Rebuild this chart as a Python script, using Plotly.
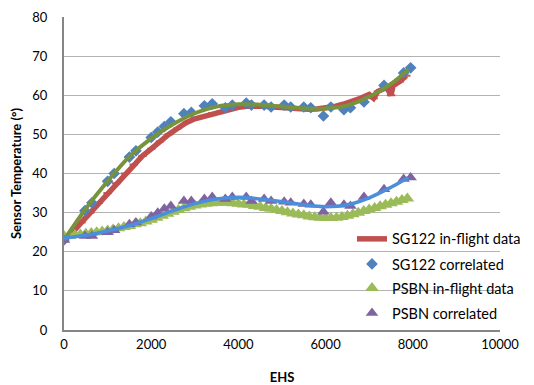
import plotly.graph_objects as go

# ---------------- data ----------------
sg_flight_x = [0, 200, 400, 600, 800, 1000, 1200, 1400, 1600, 1800, 2000, 2200, 2400, 2600,
               2800, 3000, 3200, 3400, 3600, 3800, 4000, 4200, 4400, 4600, 4800, 5000, 5200,
               5400, 5600, 5800, 6000, 6200, 6400, 6600, 6800, 7000, 7100, 7200, 7400, 7500,
               7550, 7700, 7850]
sg_flight_y = [23.5, 25.0, 27.5, 30.0, 32.5, 35.0, 37.5, 40.0, 42.3, 44.5, 46.3, 48.2, 50.0, 51.5,
               53.0, 54.0, 54.6, 55.4, 56.0, 56.5, 56.9, 57.2, 57.3, 57.2, 57.0, 56.8, 56.6,
               56.5, 56.4, 56.5, 56.7, 57.1, 57.7, 58.4, 59.2, 60.2, 59.2, 61.0, 62.0, 60.0,
               62.5, 63.5, 65.0]

corr_x = [0, 480, 640, 1000, 1150, 1500, 1650, 2000, 2150, 2300, 2450, 2750, 2920, 3220, 3400,
          3700, 3860, 4180, 4300, 4590, 4750, 5050, 5200, 5500, 5660, 5950, 6120, 6420, 6570,
          6880, 7340, 7790, 7950]
sg_corr_y = [23.0, 30.5, 32.5, 38.0, 40.0, 44.2, 45.8, 49.2, 50.6, 52.0, 53.2, 55.3, 55.6, 57.3, 57.8,
             56.8, 57.5, 58.0, 57.5, 57.5, 57.0, 57.5, 57.0, 57.0, 56.8, 54.7, 57.0, 56.3, 56.8,
             58.3, 62.5, 65.7, 67.0]
psbn_corr_y = [23.0, 24.0, 24.0, 25.0, 25.5, 27.0, 27.5, 29.0, 30.0, 31.0, 31.7, 33.0, 33.0, 33.5, 34.0,
               33.5, 34.0, 34.0, 33.0, 33.5, 33.0, 32.8, 32.5, 32.2, 32.0, 30.2, 32.5, 32.0, 31.7,
               34.0, 36.0, 38.6, 39.0]

psbn_flight_x = [0, 125, 250, 375, 500, 625, 750, 875, 1000, 1125, 1250, 1375, 1500, 1625, 1750, 1875,
                 2000, 2125, 2250, 2375, 2500, 2625, 2750, 2875, 3000, 3125, 3250, 3375, 3500, 3625,
                 3750, 3875, 4000, 4125, 4250, 4375, 4500, 4625, 4750, 4875, 5000, 5125, 5250, 5375,
                 5500, 5625, 5750, 5875, 6000, 6125, 6250, 6375, 6500, 6625, 6750, 6875, 7000, 7125,
                 7250, 7375, 7500, 7625, 7750, 7875]
psbn_flight_y = [24.0, 24.1, 24.3, 24.4, 24.6, 24.8, 25.0, 25.2, 25.4, 25.7, 26.0, 26.3, 26.6, 27.0, 27.3, 27.7,
                 28.2, 28.7, 29.2, 29.7, 30.2, 30.7, 31.1, 31.5, 31.8, 32.1, 32.3, 32.4, 32.5, 32.5,
                 32.5, 32.4, 32.3, 32.1, 32.0, 31.7, 31.5, 31.2, 31.0, 30.7, 30.4, 30.1, 29.8, 29.5,
                 29.3, 29.0, 28.8, 28.7, 28.6, 28.6, 28.7, 28.9, 29.2, 29.6, 30.0, 30.4, 30.8, 31.2,
                 31.6, 32.0, 32.4, 32.8, 33.2, 33.6]

trend_x = [0, 500, 1000, 1500, 2000, 2500, 3000, 3500, 4000, 4500, 5000, 5500, 6000, 6500, 7000, 7500, 7900]
sg_trend_y = [23.0, 31.0, 38.0, 44.3, 49.0, 52.6, 55.4, 57.1, 57.7, 57.6, 57.1, 56.6, 56.6, 57.4, 59.6, 62.9, 66.6]
psbn_trend_y = [23.5, 24.2, 25.3, 26.7, 28.5, 30.5, 32.3, 33.5, 33.9, 33.5, 32.8, 32.0, 31.5, 32.0, 33.8, 36.5, 39.0]

x_ticks = [0, 2000, 4000, 6000, 8000, 10000]
x_tick_text = ["0", "2000", "4000", "6000", "8000", "10000"]
y_ticks = [0, 10, 20, 30, 40, 50, 60, 70, 80]

RED = "#C0504D"
BLUE = "#4F81BD"
GREEN = "#9BBB59"
PURPLE = "#8064A2"
OLIVE = "#77933C"
LBLUE = "#4A8FDB"
FONT = "Lato"

fig = go.Figure()
fig.add_trace(go.Scatter(x=sg_flight_x, y=sg_flight_y, mode="lines+markers", name="SG122 in-flight data",
                         line=dict(color=RED, width=5.5), marker=dict(symbol="line-ew", size=6,
                         line=dict(color=RED, width=2)), legend="legend"))
fig.add_trace(go.Scatter(x=corr_x, y=sg_corr_y, mode="markers", name="SG122 correlated",
                         marker=dict(symbol="diamond", size=9, color=BLUE), legend="legend2"))
fig.add_trace(go.Scatter(x=psbn_flight_x, y=psbn_flight_y, mode="markers", name="PSBN in-flight data",
                         marker=dict(symbol="triangle-up", size=12, color=GREEN), legend="legend3"))
fig.add_trace(go.Scatter(x=corr_x, y=psbn_corr_y, mode="markers", name="PSBN correlated",
                         marker=dict(symbol="triangle-up", size=11, color=PURPLE), legend="legend4"))
fig.add_trace(go.Scatter(x=trend_x, y=sg_trend_y, mode="lines", line=dict(color=OLIVE, width=4, shape="spline"),
                         showlegend=False, hoverinfo="skip"))
fig.add_trace(go.Scatter(x=trend_x, y=psbn_trend_y, mode="lines", line=dict(color=LBLUE, width=3.5, shape="spline"),
                         showlegend=False, hoverinfo="skip"))

leg_common = dict(x=0.659, xanchor="left", yanchor="middle", bgcolor="rgba(0,0,0,0)",
                  font=dict(family=FONT, size=14.5, color="black"), itemwidth=30)

# the page adds an 8px body margin, so the figure is sized to fit the window after that offset
fig.update_layout(
    width=526, height=377,
    margin=dict(l=55.5, r=32.5, t=9, b=55),
    paper_bgcolor="white", plot_bgcolor="white",
    font=dict(family=FONT, size=13, color="black"),
    showlegend=True,
    legend=dict(y=0.291, **leg_common),
    legend2=dict(y=0.211, **leg_common),
    legend3=dict(y=0.134, **leg_common),
    legend4=dict(y=0.054, **leg_common),
    xaxis=dict(range=[0, 10000], tickvals=x_ticks, ticktext=x_tick_text, showgrid=False, zeroline=False,
               showline=True, linecolor="#868686", linewidth=2, ticks="", ticklabelstandoff=1,
               automargin=False,
               title=dict(text="<b>EHS</b>", font=dict(size=13), standoff=22)),
    yaxis=dict(range=[0, 80], tickvals=y_ticks, showgrid=True, gridcolor="#B3B3B3", gridwidth=1.3,
               zeroline=False, showline=True, linecolor="#868686", linewidth=2, ticks="",
               ticklabelstandoff=12, automargin=False,
               title=dict(text="<b>Sensor Temperature (°)</b>", font=dict(size=13), standoff=12)),
)

fig.write_html("out.html")
